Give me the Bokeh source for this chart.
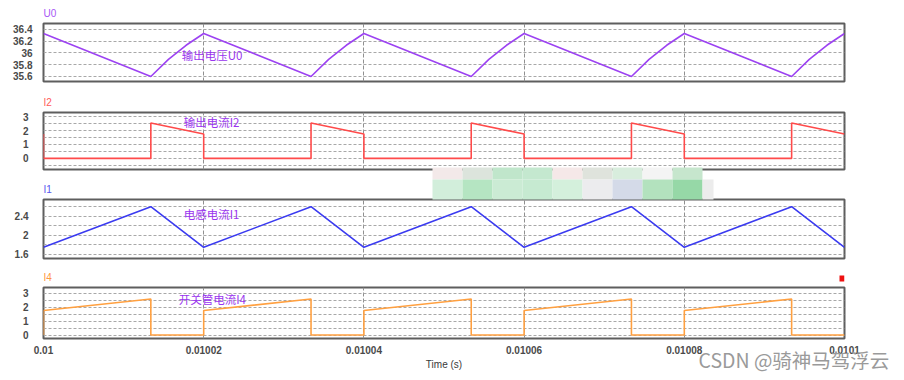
from bokeh.plotting import figure
from bokeh.models import FixedTicker, Label, Range1d
from bokeh.layouts import column
from bokeh.embed import file_html
from bokeh.resources import INLINE

# ---------------- data ----------------
x_ticks = [0.01, 0.01002, 0.01004, 0.01006, 0.01008, 0.0101]
x_tick_labels = ["0.01", "0.01002", "0.01004", "0.01006", "0.01008", "0.0101"]

t_U0 = [0.01, 0.0100134, 0.0100156, 0.0100178, 0.01002,
        0.0100334, 0.0100356, 0.0100378, 0.01004,
        0.0100534, 0.0100556, 0.0100578, 0.01006,
        0.0100734, 0.0100756, 0.0100778, 0.01008,
        0.0100934, 0.0100956, 0.0100978, 0.0101]
U0 = [36.33, 35.60, 35.89, 36.13, 36.33,
      35.60, 35.89, 36.13, 36.33,
      35.60, 35.89, 36.13, 36.33,
      35.60, 35.89, 36.13, 36.33,
      35.60, 35.89, 36.13, 36.33]

t_I2 = [0.01, 0.01, 0.0100134, 0.0100134, 0.01002, 0.01002,
        0.0100334, 0.0100334, 0.01004, 0.01004,
        0.0100534, 0.0100534, 0.01006, 0.01006,
        0.0100734, 0.0100734, 0.01008, 0.01008,
        0.0100934, 0.0100934, 0.0101]
I2 = [1.75, 0, 0, 2.55, 1.75, 0,
      0, 2.55, 1.75, 0,
      0, 2.55, 1.75, 0,
      0, 2.55, 1.75, 0,
      0, 2.55, 1.75]

t_I1 = [0.01, 0.0100134, 0.01002, 0.0100334, 0.01004, 0.0100534,
        0.01006, 0.0100734, 0.01008, 0.0100934, 0.0101]
I1 = [1.75, 2.60, 1.75, 2.60, 1.75, 2.60, 1.75, 2.60, 1.75, 2.60, 1.75]

t_I4 = [0.01, 0.01, 0.0100134, 0.0100134, 0.01002, 0.01002,
        0.0100334, 0.0100334, 0.01004, 0.01004,
        0.0100534, 0.0100534, 0.01006, 0.01006,
        0.0100734, 0.0100734, 0.01008, 0.01008,
        0.0100934, 0.0100934, 0.0101]
I4 = [0, 1.75, 2.58, 0, 0, 1.75,
      2.58, 0, 0, 1.75,
      2.58, 0, 0, 1.75,
      2.58, 0, 0, 1.75,
      2.58, 0, 0]

U0_ticks = [35.6, 35.8, 36.0, 36.2, 36.4]
U0_tick_labels = ["35.6", "35.8", "36", "36.2", "36.4"]
I2_ticks = [0, 1, 2, 3]
I2_tick_labels = ["0", "1", "2", "3"]
I2_grid = [-0.5, 0.5, 1.5, 2.5]
I1_ticks = [1.6, 2.0, 2.4]
I1_tick_labels = ["1.6", "2", "2.4"]
I1_grid = [1.8, 2.2, 2.6]
I4_ticks = [0, 1, 2, 3]
I4_tick_labels = ["0", "1", "2", "3"]
I4_grid = [0.5, 1.5, 2.5]

LABEL_FONT = "Liberation Sans"
CJK_FONT = "Noto Sans CJK SC"
TXT_PURPLE = "#9a35ee"

FRAME_W = 801
BORDER_L = 43
BORDER_R = 52
TOP = 23
panel_frame_h = [58, 57, 59, 51]
panel_bottom = [8, 7, 6, 40]
STACK_H = sum(TOP + h + b for h, b in zip(panel_frame_h, panel_bottom))


def make_panel(t, y, color, title, title_color, yr, ticks, tick_labels, minor,
               label_text, label_x, label_y, fh, bottom, show_x=False):
    p = figure(output_backend="svg", toolbar_location=None,
               frame_width=FRAME_W, frame_height=fh,
               min_border_left=BORDER_L, min_border_right=BORDER_R,
               min_border_top=TOP, min_border_bottom=bottom,
               x_range=Range1d(x_ticks[0], x_ticks[-1]),
               y_range=Range1d(*yr),
               x_axis_location="below" if show_x else None,
               background_fill_color="white", border_fill_color="white")
    p.outline_line_color = "#5e5e5e"
    p.outline_line_width = 2

    p.title.text = title
    p.title.align = "left"
    p.title.text_font = LABEL_FONT
    p.title.text_font_size = "10px"
    p.title.text_font_style = "normal"
    p.title.text_color = title_color
    p.title.standoff = 9
    p.title.offset = 0

    yt = FixedTicker(ticks=ticks, minor_ticks=minor)
    p.yaxis.ticker = yt
    p.yaxis.major_label_overrides = {tk: lb for tk, lb in zip(ticks, tick_labels)}
    p.yaxis.axis_line_color = None
    p.yaxis.major_tick_line_color = None
    p.yaxis.minor_tick_line_color = None
    p.yaxis.major_tick_out = 0
    p.yaxis.major_label_standoff = 11
    p.yaxis.major_label_text_font_size = "10px"
    p.yaxis.major_label_text_font_style = "bold"
    p.yaxis.major_label_text_color = "#4a4a4a"
    p.yaxis.major_label_text_font = LABEL_FONT

    p.ygrid.ticker = yt
    p.ygrid.grid_line_color = "#a8a8a8"
    p.ygrid.grid_line_dash = "3 2"
    p.ygrid.grid_line_width = 1
    p.ygrid.minor_grid_line_color = "#a8a8a8"
    p.ygrid.minor_grid_line_dash = "3 2"
    p.ygrid.minor_grid_line_width = 1

    p.xgrid.ticker = FixedTicker(ticks=x_ticks[1:-1])
    p.xgrid.grid_line_color = "#909090"
    p.xgrid.grid_line_dash = "4 2"
    p.xgrid.grid_line_width = 1

    if show_x:
        p.xaxis.ticker = FixedTicker(ticks=x_ticks)
        p.xaxis.major_label_overrides = {tk: lb for tk, lb in zip(x_ticks, x_tick_labels)}
        p.xaxis.axis_line_color = None
        p.xaxis.major_tick_line_color = None
        p.xaxis.minor_tick_line_color = None
        p.xaxis.major_tick_out = 0
        p.xaxis.major_label_standoff = 7
        p.xaxis.major_label_text_font_size = "10px"
        p.xaxis.major_label_text_font_style = "bold"
        p.xaxis.major_label_text_color = "#4a4a4a"
        p.xaxis.major_label_text_font = LABEL_FONT
        p.xaxis.axis_label = "Time (s)"
        p.xaxis.axis_label_text_font_size = "10px"
        p.xaxis.axis_label_text_font_style = "normal"
        p.xaxis.axis_label_text_color = "#3a3a3a"
        p.xaxis.axis_label_text_font = LABEL_FONT
        p.xaxis.axis_label_standoff = 2

    p.line(t, y, line_color=color, line_width=1.6)

    p.add_layout(Label(x=label_x, y=label_y, text=label_text,
                       text_font=CJK_FONT, text_font_size="11.5px",
                       text_color=TXT_PURPLE, text_baseline="middle", text_align="left"))
    return p


p1 = make_panel(t_U0, U0, "#9c42f2", "U0", "#a758f5", (35.515, 36.5),
                U0_ticks, U0_tick_labels, [], "输出电压U0", 0.01001725, 35.957,
                panel_frame_h[0], panel_bottom[0])
p2 = make_panel(t_I2, I2, "#ff4a4a", "I2", "#ff5a5a", (-0.8, 3.3),
                I2_ticks, I2_tick_labels, I2_grid, "输出电流I2", 0.0100175, 2.60,
                panel_frame_h[1], panel_bottom[1])
p3 = make_panel(t_I1, I1, "#3b3bf0", "I1", "#5656ee", (1.516, 2.75),
                I1_ticks, I1_tick_labels, I1_grid, "电感电流I1", 0.0100175, 2.44,
                panel_frame_h[2], panel_bottom[2])
p4 = make_panel(t_I4, I4, "#ffa040", "I4", "#ff9840", (-0.25, 3.4),
                I4_ticks, I4_tick_labels, I4_grid, "开关管电流I4", 0.01001688, 2.60,
                panel_frame_h[3], panel_bottom[3], show_x=True)

# ---------------- transparent overlay for page decorations ----------------
OV_FRAME_H = 343
mosaic_x0 = 432
mosaic_top = ["#f3e9e9", "#dce4dc", "#c0e6cb", "#c4e8cf", "#f5e8e8",
              "#dfe3dc", "#d8eddd", "#f4f4f4", "#c6e6cd"]
mosaic_bottom = ["#d2eedb", "#b5e5c2", "#cbebd4", "#c6ead1", "#d4f0dc",
                 "#ececee", "#d4dae8", "#b3e2be", "#96d8a7", "#ececec"]

ov = figure(output_backend="svg", toolbar_location=None,
            frame_width=FRAME_W, frame_height=OV_FRAME_H,
            min_border_left=BORDER_L, min_border_right=BORDER_R,
            min_border_top=0, min_border_bottom=0,
            x_range=Range1d(BORDER_L, BORDER_L + FRAME_W),
            y_range=Range1d(OV_FRAME_H, 0),
            x_axis_location=None, y_axis_location=None,
            background_fill_alpha=0, border_fill_alpha=0,
            outline_line_color=None,
            title="CSDN @骑神马驾浮云", title_location="below")
ov.grid.visible = False
ov.margin = (-STACK_H, 0, 0, 0)
ov.title.align = "left"
ov.title.offset = 698 - BORDER_L
ov.title.text_font = CJK_FONT
ov.title.text_font_size = "19.5px"
ov.title.text_font_style = "normal"
ov.title.text_color = "#9a9a9a"
ov.title.vertical_align = "middle"
ov.title.standoff = 0

top_left = [mosaic_x0 + 30 * i for i in range(len(mosaic_top))]
ov.quad(left=top_left, right=[v + 30 for v in top_left], top=167, bottom=179,
        fill_color=mosaic_top, line_color=None)
bot_left = [mosaic_x0 + 30 * i for i in range(len(mosaic_bottom))]
bot_right = [v + 30 for v in bot_left[:-1]] + [bot_left[-1] + 11]
ov.quad(left=bot_left, right=bot_right, top=179, bottom=199,
        fill_color=mosaic_bottom, line_color=None)

ov.quad(left=[839], right=[844], top=[275], bottom=[281],
        fill_color="#ee1111", line_color=None)

layout = column(p1, p2, p3, p4, ov)
open("out.html", "w").write(file_html(layout, INLINE))
